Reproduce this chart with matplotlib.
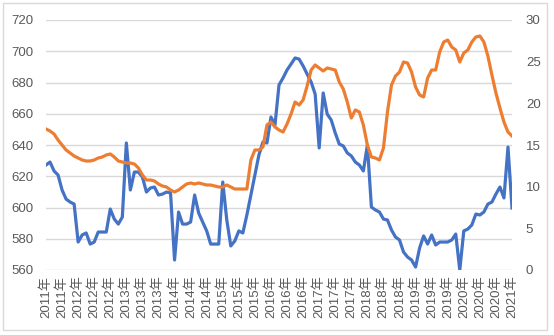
import matplotlib.pyplot as plt
from matplotlib.patches import Rectangle

plt.rcParams['font.family'] = ['Liberation Sans', 'Noto Sans CJK SC', 'DejaVu Sans']

# monthly series, left axis (blue) and right axis (orange)
blue = [627.2, 629.1, 623.4, 620.8, 611.2, 605.4, 603.5, 602.2, 577.9, 582.4,
        583.7, 576.6, 577.9, 584.3, 584.3, 584.3, 599.0, 592.6, 589.4, 593.9,
        641.3, 611.2, 622.7, 622.7, 619.5, 609.9, 612.5, 613.1, 608.0, 608.6,
        609.9, 609.3, 566.4, 597.1, 589.4, 589.4, 590.7, 608.0, 596.5, 590.7,
        585.0, 576.6, 576.6, 576.6, 616.3, 592.0, 575.4, 578.6, 585.0, 583.7,
        595.2, 608.0, 620.8, 633.6, 641.9, 641.3, 657.9, 652.8, 678.4, 682.9,
        688.0, 691.8, 695.7, 695.0, 690.6, 685.4, 680.3, 672.6, 638.1, 673.3,
        659.8, 656.0, 647.7, 640.6, 639.4, 634.9, 633.0, 629.1, 627.2, 623.4,
        640.0, 600.3, 598.4, 597.1, 592.6, 592.0, 585.6, 581.1, 579.2, 571.5,
        568.3, 566.4, 561.9, 574.1, 581.8, 576.6, 582.4, 576.0, 577.9, 577.9,
        577.9, 579.2, 583.0, 560.0, 585.0, 586.2, 588.8, 595.8, 595.2, 597.1,
        602.2, 603.5, 608.6, 613.1, 606.1, 638.7, 599.7]

orange = [16.92, 16.68, 16.32, 15.6, 15.0, 14.4, 14.04, 13.68, 13.44, 13.2,
          13.08, 13.08, 13.2, 13.44, 13.56, 13.8, 13.92, 13.56, 13.08, 12.96,
          12.84, 12.84, 12.72, 12.24, 11.4, 10.8, 10.8, 10.68, 10.32, 10.08,
          9.96, 9.6, 9.36, 9.6, 9.96, 10.32, 10.44, 10.32, 10.44, 10.32,
          10.2, 10.2, 10.08, 9.96, 9.96, 10.2, 9.96, 9.72, 9.72, 9.72,
          9.72, 13.2, 14.4, 14.4, 14.76, 17.4, 17.76, 17.16, 16.8, 16.56,
          17.52, 18.72, 20.16, 19.8, 20.4, 22.08, 24.0, 24.6, 24.24, 23.88,
          24.24, 24.12, 24.0, 22.56, 21.72, 20.16, 18.24, 19.2, 18.96, 17.4,
          15.0, 13.56, 13.44, 13.2, 14.64, 18.96, 22.2, 23.28, 23.76, 24.96,
          24.84, 23.76, 21.96, 21.0, 20.76, 23.04, 24.0, 24.0, 26.16, 27.36,
          27.6, 26.76, 26.4, 24.96, 26.04, 26.4, 27.36, 27.96, 28.08, 27.36,
          25.68, 23.4, 21.24, 19.44, 17.76, 16.56, 16.08]

year_labels = ['2011年', '2011年',
               '2012年', '2012年', '2012年',
               '2013年', '2013年', '2013年',
               '2014年', '2014年', '2014年',
               '2015年', '2015年', '2015年',
               '2016年', '2016年', '2016年',
               '2017年', '2017年', '2017年',
               '2018年', '2018年', '2018年',
               '2019年', '2019年', '2019年',
               '2020年', '2020年', '2020年',
               '2021年']

grey = '#595959'

fig = plt.figure(figsize=(5.54, 3.35), dpi=100)
fig.patches.append(Rectangle((3 / 554, 5 / 335), 544 / 554, 327 / 335,
                             transform=fig.transFigure, fill=False,
                             edgecolor='#d9d9d9', linewidth=1))
ax = fig.add_axes([46 / 554, 1 - 270 / 335, 466 / 554, 250 / 335])
ax2 = ax.twinx()

x = list(range(len(blue)))
ax.plot(x, blue, color='#4472C4', linewidth=2.3, solid_joinstyle='round')
ax2.plot(x, orange, color='#ED7D31', linewidth=2.3, solid_joinstyle='round')

ax.set_xlim(0, len(blue) - 1)
ax.set_ylim(560, 720)
ax.set_yticks(range(560, 721, 20))
ax2.set_ylim(0, 30)
ax2.set_yticks(range(0, 31, 5))

ax.grid(axis='y', color='#d9d9d9', linewidth=1)
ax.set_axisbelow(True)
for a in (ax, ax2):
    for s in a.spines.values():
        s.set_visible(False)
    a.tick_params(length=0, colors=grey, labelsize=9.5)

ax.set_xticks(x[::4])
ax.set_xticklabels(year_labels, rotation=90)
ax.tick_params(axis='x', pad=4)
ax.tick_params(axis='y', pad=9)
ax2.tick_params(axis='y', pad=10)

fig.savefig('out.png', dpi=100)
